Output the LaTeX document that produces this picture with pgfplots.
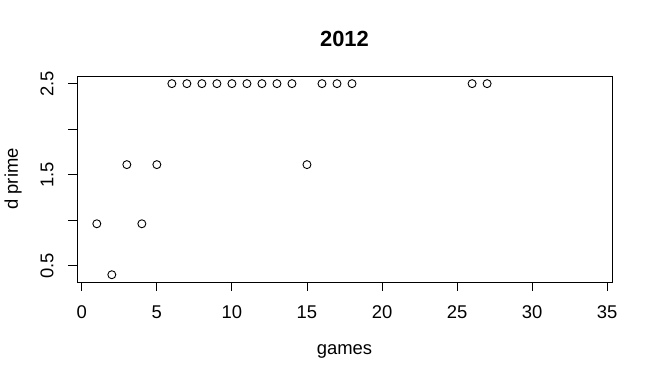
\documentclass[border=0pt]{standalone}
\usepackage{fontspec}
\setmainfont{Liberation Sans}
\usepackage{pgfplots}
\pgfplotsset{compat=1.18}
\begin{document}
\begin{tikzpicture}
\path[use as bounding box] (0,0) rectangle (650bp,378bp);
\begin{axis}[
  at={(77bp,96bp)}, anchor=south west,
  scale only axis, width=535bp, height=206bp,
  xmin=-0.32, xmax=35.32, ymin=0.32, ymax=2.584,
  axis line style={line width=0.9bp},
  xtick={0,5,...,35},
  ytick={0.5,1,1.5,2,2.5}, yticklabels={0.5,,1.5,,2.5},
  xtick pos=bottom, ytick pos=left,
  tick align=outside, major tick length=9bp,
  tick style={black, line width=0.9bp},
  /pgf/number format/assume math mode=true,
  ticklabel style={font=\fontsize{18.5}{18.5}\selectfont},
  xticklabel shift=11bp, yticklabel shift=11bp,
  yticklabel style={rotate=90, anchor=south},
  title={2012},
  title style={at={(axis description cs:0.5,1.15)}, anchor=center, font=\fontsize{22}{22}\selectfont\bfseries},
  xlabel={games},
  xlabel style={at={(axis description cs:0.5,-0.335)}, anchor=center, font=\fontsize{18.5}{18.5}\selectfont},
  ylabel={d prime},
  ylabel style={at={(axis description cs:-0.1196,0.5)}, anchor=center, font=\fontsize{18.5}{18.5}\selectfont},
]
\addplot[only marks, mark=o, mark size=4bp, mark options={line width=0.9bp, black}] coordinates {
 (1,0.96) (2,0.40) (3,1.61) (4,0.96) (5,1.61)
 (6,2.5) (7,2.5) (8,2.5) (9,2.5) (10,2.5) (11,2.5) (12,2.5) (13,2.5) (14,2.5)
 (15,1.61) (16,2.5) (17,2.5) (18,2.5) (26,2.5) (27,2.5)
};
\end{axis}
\end{tikzpicture}
\end{document}
